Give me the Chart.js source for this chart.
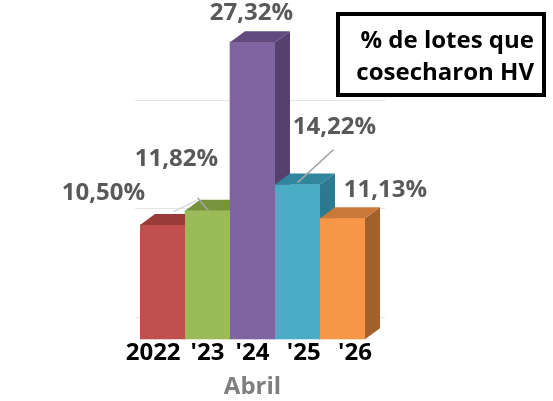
<!DOCTYPE html>
<html lang="es">
<head>
    <meta charset="UTF-8">
    <title>% de lotes que cosecharon HV</title>
    <script src="https://cdn.jsdelivr.net/npm/chart.js"></script>
    <style>
        body { margin: 0; background: #fff; }
        .wrap { position: relative; width: 553px; height: 401px; }
        .title-box {
            position: absolute; left: 336px; top: 12px;
            width: 210px; height: 85px; box-sizing: border-box;
            border: 4px solid #000; padding: 7px 8px 0 0;
            text-align: right; font: bold 24px "Open Sans", sans-serif;
            line-height: 32px; color: #000;
        }
    </style>
</head>
<body>
    <div class="wrap">
        <canvas id="hvChart" width="553" height="401"></canvas>
        <div class="title-box">% de lotes que<br>cosecharon HV</div>
    </div>

    <script>
        // Data
        const years = ['2022', "'23", "'24", "'25", "'26"];
        const harvested = [10.50, 11.82, 27.32, 14.22, 11.13];
        const axisTitle = 'Abril';

        // Colours (front, top, side)
        const frontColors = ['#c0504d', '#9bbb59', '#8064a2', '#4bacc6', '#f79646'];
        const topColors = ['#9a3b39', '#77933c', '#614a7e', '#31859c', '#c8793a'];
        const sideColors = ['#8a3431', '#6a8534', '#56406f', '#2c7a8f', '#a2612b'];

        // label offsets from the bar's top centre, [dx, dy]
        const labelOffsets = [[-59, -32], [-31, -52], [-1, -29], [37, -57], [43, -28]];
        const depthX = 15, depthY = 11;

        // spacing so the year labels spread a little wider than the bars
        const tickPadLeft = ['', '', '', '  ', '    '];
        const tickPadRight = ['   ', '', '', '', ''];

        const fmt = v => v.toFixed(2).replace('.', ',') + '%';

        const bars3d = {
            id: 'bars3d',
            beforeDatasetsDraw(chart) {
                // faint back-wall gridlines
                const ctx = chart.ctx, y = chart.scales.y, a = chart.chartArea;
                ctx.save();
                ctx.strokeStyle = '#e4e4e4';
                ctx.lineWidth = 1;
                [0, 10, 20].forEach(v => {
                    const py = Math.round(y.getPixelForValue(v) - 22) + 0.5;
                    ctx.beginPath();
                    ctx.moveTo(a.left - 5, py);
                    ctx.lineTo(a.right + depthX + 5, py);
                    ctx.stroke();
                });
                ctx.restore();
            },
            afterDatasetsDraw(chart) {
                const ctx = chart.ctx;
                const meta = chart.getDatasetMeta(0);
                ctx.save();
                meta.data.forEach((bar, i) => {
                    const l = bar.x - bar.width / 2, r = bar.x + bar.width / 2;
                    const t = bar.y, b = bar.base;
                    // side
                    ctx.fillStyle = sideColors[i];
                    ctx.beginPath();
                    ctx.moveTo(r, t);
                    ctx.lineTo(r + depthX, t - depthY);
                    ctx.lineTo(r + depthX, b - depthY);
                    ctx.lineTo(r, b);
                    ctx.closePath();
                    ctx.fill();
                    // top
                    ctx.fillStyle = topColors[i];
                    ctx.beginPath();
                    ctx.moveTo(l, t);
                    ctx.lineTo(l + depthX, t - depthY);
                    ctx.lineTo(r + depthX, t - depthY);
                    ctx.lineTo(r, t);
                    ctx.closePath();
                    ctx.fill();
                    // front again so the next bar hides this side
                    ctx.fillStyle = frontColors[i];
                    ctx.fillRect(l, t, r - l, b - t);
                });
                ctx.restore();
            },
            afterDraw(chart) {
                const ctx = chart.ctx;
                const meta = chart.getDatasetMeta(0);
                ctx.save();
                // leader lines
                ctx.lineWidth = 1.5;
                const leaders = [
                    [1, [-34, 1], [-11, -10], '#d6d6d6'],
                    [1, [-10, -13], [1, 0], '#a6a6a6'],
                    [3, [36, -35], [0, -2], '#a6a6a6']
                ];
                leaders.forEach(([k, p1, p2, c]) => {
                    const bar = meta.data[k];
                    ctx.strokeStyle = c;
                    ctx.beginPath();
                    ctx.moveTo(bar.x + p1[0], bar.y + p1[1]);
                    ctx.lineTo(bar.x + p2[0], bar.y + p2[1]);
                    ctx.stroke();
                });
                // value labels
                ctx.fillStyle = '#595959';
                ctx.font = 'bold 24px "Open Sans", sans-serif';
                ctx.textAlign = 'center';
                ctx.textBaseline = 'middle';
                meta.data.forEach((bar, i) => {
                    ctx.fillText(fmt(harvested[i]), bar.x + labelOffsets[i][0], bar.y + labelOffsets[i][1]);
                });
                ctx.restore();
            }
        };

        new Chart(document.getElementById('hvChart'), {
            type: 'bar',
            data: {
                labels: years,
                datasets: [{
                    data: harvested,
                    backgroundColor: frontColors,
                    borderWidth: 0,
                    categoryPercentage: 1,
                    barPercentage: 1
                }]
            },
            options: {
                responsive: false,
                animation: false,
                layout: { padding: { left: 140, right: 188, top: 13, bottom: 0 } },
                plugins: { legend: { display: false }, tooltip: { enabled: false } },
                scales: {
                    y: { display: false, min: 0, max: 30 },
                    x: {
                        grid: { display: false, drawTicks: false },
                        border: { display: false },
                        ticks: {
                            padding: 0,
                            autoSkip: false,
                            maxRotation: 0,
                            minRotation: 0,
                            color: '#000',
                            font: { family: 'Open Sans', size: 24, weight: 'bold' },
                            callback: (v, i) => tickPadLeft[i] + years[i] + tickPadRight[i]
                        },
                        title: {
                            display: true,
                            text: axisTitle,
                            color: '#7f7f7f',
                            padding: { top: 7, bottom: 2 },
                            font: { family: 'Open Sans', size: 24, weight: 'bold', lineHeight: 1 }
                        }
                    }
                }
            },
            plugins: [bars3d]
        });
    </script>
</body>
</html>
